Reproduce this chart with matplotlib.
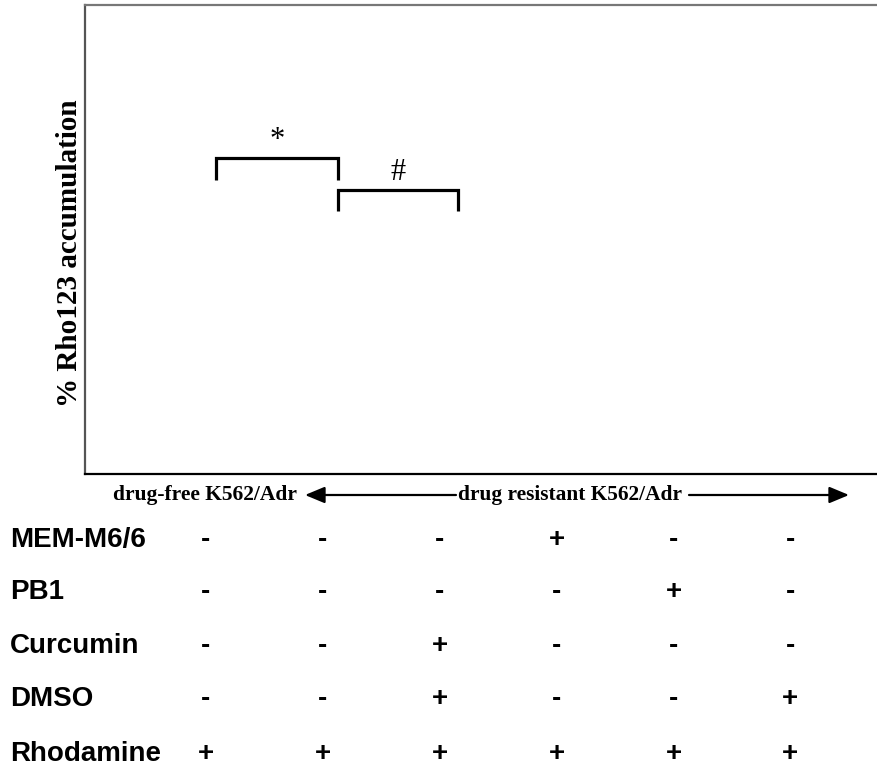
import matplotlib
matplotlib.use("Agg")
import matplotlib.pyplot as plt
import matplotlib.transforms as mtransforms
from matplotlib.patches import FancyArrowPatch

# Treatment layout for the six samples
treatments = ["MEM-M6/6", "PB1", "Curcumin", "DMSO", "Rhodamine"]
mem_m66   = ["-", "-", "-", "+", "-", "-"]
pb1       = ["-", "-", "-", "-", "+", "-"]
curcumin  = ["-", "-", "+", "-", "-", "-"]
dmso      = ["-", "-", "+", "-", "-", "+"]
rhodamine = ["+", "+", "+", "+", "+", "+"]
table = [mem_m66, pb1, curcumin, dmso, rhodamine]

sample_pos = [0, 1, 2, 3, 4, 5]

# Significance brackets: (x_left, x_right, y_top, y_leg, label)
sig_star = (0.09, 1.13, 67.4, 62.7, "*")
sig_hash = (1.13, 2.16, 60.6, 56.1, "#")

W, H = 877, 774
fig = plt.figure(figsize=(W / 100, H / 100), dpi=100)
ax = fig.add_axes([85 / W, (H - 474) / H, 1 - 85 / W, (474 - 5) / H])
ax.set_xlim(-1.03, 5.74)
ax.set_ylim(0, 100)
ax.set_xticks([])
ax.set_yticks([])
ax.spines["right"].set_visible(False)
ax.spines["left"].set_color("#555555")
ax.spines["left"].set_linewidth(1.6)
ax.spines["top"].set_color("#777777")
ax.spines["top"].set_linewidth(1.6)
ax.spines["bottom"].set_color("black")
ax.spines["bottom"].set_linewidth(1.6)

ax.set_ylabel("% Rho123 accumulation", family="Liberation Serif",
              fontweight="bold", fontsize=21)
ax.yaxis.set_label_coords(-0.002, 0.47)

for x0, x1, ytop, yleg, lab in (sig_star, sig_hash):
    ax.plot([x0, x0, x1, x1], [yleg, ytop, ytop, yleg], color="black",
            lw=2.3, solid_joinstyle="miter", solid_capstyle="butt")
    ax.text((x0 + x1) / 2, ytop + 0.6, lab, ha="center", va="bottom",
            family="Liberation Serif", fontsize=22)

# Cell line annotation row beneath the axes
row_y = 1 - 495 / H
fig.text(113 / W, row_y, "drug-free K562/Adr", family="Liberation Serif",
         fontweight="bold", fontsize=15.5, ha="left", va="center")
fig.text(570 / W, row_y, "drug resistant K562/Adr", family="Liberation Serif",
         fontweight="bold", fontsize=15.4, ha="center", va="center")
for xa, xb in ((456, 305), (689, 849)):
    fig.add_artist(FancyArrowPatch((xa / W, row_y), (xb / W, row_y),
                                   transform=fig.transFigure,
                                   arrowstyle="-|>,head_length=12,head_width=5",
                                   mutation_scale=1.0, lw=1.6, color="black",
                                   shrinkA=0, shrinkB=0))

# Treatment table
blend = mtransforms.blended_transform_factory(ax.transData, fig.transFigure)
row_ys = [540, 592, 646, 699, 754]
for name, vals, yp in zip(treatments, table, row_ys):
    fy = 1 - yp / H
    fig.text(10 / W, fy, name, family="Liberation Sans", fontweight="bold",
             fontsize=20, ha="left", va="center")
    for xp, v in zip(sample_pos, vals):
        ax.text(xp, fy, v, transform=blend, family="Liberation Sans",
                fontweight="bold", fontsize=20, ha="center", va="center",
                clip_on=False)

fig.savefig("out.png", dpi=100)
